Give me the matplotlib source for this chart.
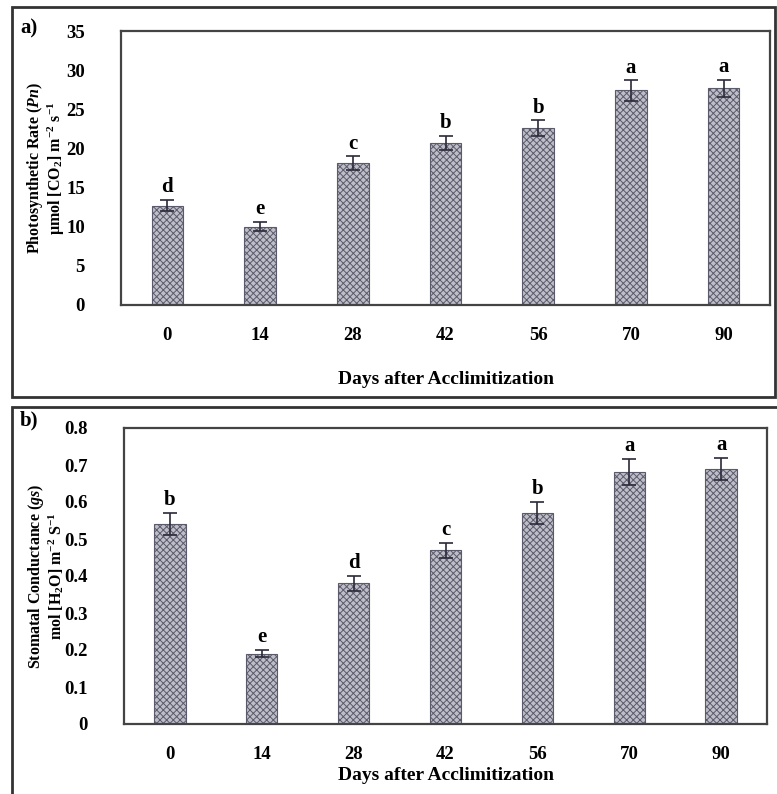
import numpy as np
import matplotlib.pyplot as plt
from matplotlib.patches import Rectangle

days = ['0', '14', '28', '42', '56', '70', '90']

pn = [12.7, 10.0, 18.1, 20.7, 22.6, 27.4, 27.7]
pn_err = [0.7, 0.6, 0.9, 0.9, 1.0, 1.3, 1.1]
pn_letters = ['d', 'e', 'c', 'b', 'b', 'a', 'a']

gs = [0.54, 0.19, 0.38, 0.47, 0.57, 0.68, 0.69]
gs_err = [0.03, 0.01, 0.02, 0.02, 0.03, 0.035, 0.03]
gs_letters = ['b', 'e', 'd', 'c', 'b', 'a', 'a']

plt.rcParams['font.family'] = ['Liberation Serif', 'DejaVu Serif']
plt.rcParams['font.weight'] = 'bold'
plt.rcParams['mathtext.fontset'] = 'custom'
plt.rcParams['mathtext.rm'] = 'Liberation Serif:bold'
plt.rcParams['mathtext.it'] = 'Liberation Serif:italic:bold'
plt.rcParams['mathtext.bf'] = 'Liberation Serif:bold'
plt.rcParams['hatch.linewidth'] = 0.7

W, H = 777, 794
fig = plt.figure(figsize=(W / 100, H / 100), dpi=100)

def fx(px):
    return px / W

def fy(py):
    return 1 - py / H

# panel frames
for (x0, y0, x1, y1) in [(12, 7, 775, 397), (12, 407, 779, 800)]:
    fig.patches.append(Rectangle((fx(x0), fy(y1)), fx(x1 - x0), (y1 - y0) / H,
                                 transform=fig.transFigure, fill=False,
                                 edgecolor='#333333', linewidth=2.0))

def panel(rect, vals, errs, letters, ymax, step, yfmt, ylab, xlab_y, tag, tag_y):
    ax = fig.add_axes(rect)
    x = np.arange(len(days))
    ax.bar(x, vals, width=0.34, color='#bebec9', edgecolor='#5a5a6a',
           hatch='xxxxx', linewidth=0.8, zorder=2)
    ax.errorbar(x, vals, yerr=errs, fmt='none', ecolor='#2a2a3a',
                elinewidth=1.2, capsize=5, capthick=1.2, zorder=3)
    for xi, v, e, l in zip(x, vals, errs, letters):
        ax.text(xi, v + e + ymax * 0.01, l, ha='center', va='bottom',
                fontsize=15, fontweight='bold')
    ax.set_xlim(-0.5, len(days) - 0.5)
    ax.set_ylim(0, ymax)
    ticks = np.arange(0, ymax + step / 2, step)
    ax.set_yticks(ticks)
    ax.set_yticklabels([yfmt(t) for t in ticks])
    ax.set_xticks(x)
    ax.set_xticklabels(days)
    ax.tick_params(axis='both', length=0, labelsize=13.5)
    ax.tick_params(axis='x', pad=16)
    ax.tick_params(axis='y', pad=26)
    for s in ax.spines.values():
        s.set_linewidth(1.6)
        s.set_color('#444444')
    fig.text(fx(46), rect[1] + rect[3] / 2, ylab, rotation=90, ha='center',
             va='center', fontsize=11.5, fontweight='bold', multialignment='center',
             linespacing=1.0)
    fig.text(rect[0] + rect[2] / 2, fy(xlab_y), 'Days after Acclimitization',
             ha='center', va='center', fontsize=14, fontweight='bold')
    fig.text(fx(20), fy(tag_y), tag, ha='left', va='center', fontsize=15,
             fontweight='bold')
    return ax

panel([fx(121), fy(305), fx(649), 274 / H], pn, pn_err, pn_letters, 35, 5,
      lambda t: '%d' % t,
      'Photosynthetic Rate ($\\mathit{Pn}$)\nµmol [CO$_2$] m$^{-2}$ s$^{-1}$',
      380, 'a)', 28)

panel([fx(124), fy(724), fx(643), 296 / H], gs, gs_err, gs_letters, 0.8, 0.1,
      lambda t: '0' if t == 0 else '%.1f' % t,
      'Stomatal Conductance ($\\mathit{gs}$)\nmol [H$_2$O] m$^{-2}$ S$^{-1}$',
      776, 'b)', 420)

fig.savefig('out.png', dpi=100)
